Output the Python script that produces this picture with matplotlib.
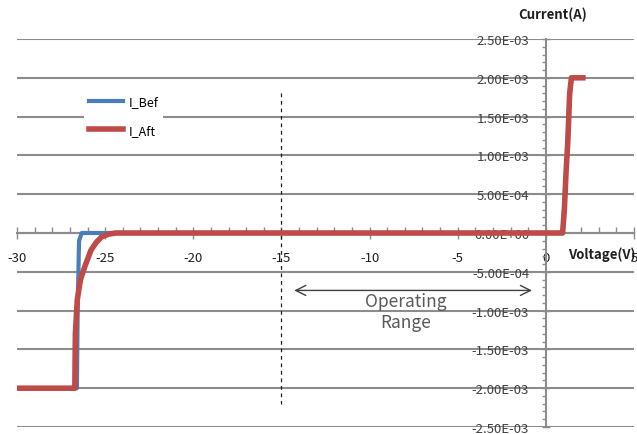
import matplotlib
matplotlib.use("Agg")
import matplotlib.pyplot as plt
from matplotlib.ticker import MultipleLocator, FuncFormatter

plt.rcParams['font.family'] = ['Noto Sans CJK KR', 'DejaVu Sans']

# I-V sweep before / after stress
v_bef = [-30, -26.6, -26.56, -26.48, -26.33, 0.95, 1.05, 1.2, 1.3, 1.45, 2.1]
i_bef = [-2.0e-3, -2.0e-3, -1.0e-3, -0.1e-3, 0.0, 0.0, 0.4e-3, 1.0e-3, 1.6e-3, 2.0e-3, 2.0e-3]

v_aft = [-30, -26.72, -26.69, -26.58, -26.4, -26.15, -25.8, -25.5, -25.2, -24.8, -24.4,
         0.95, 1.05, 1.15, 1.25, 1.3, 1.35, 1.45, 2.1]
i_aft = [-2.0e-3, -2.0e-3, -1.3e-3, -0.86e-3, -0.6e-3, -0.43e-3, -0.22e-3, -0.12e-3,
         -0.05e-3, -0.015e-3, 0.0, 0.0, 0.3e-3, 0.8e-3, 1.2e-3, 1.5e-3, 1.8e-3, 2.0e-3, 2.0e-3]

x_lim = (-30, 5)
y_lim = (-2.5e-3, 2.5e-3)
x_major = 5
y_major = 0.5e-3

range_left, range_right, range_level = -14.43, -0.63, -0.74e-3
marker_v = -15

grid_col = '#8c8c8c'
text_col = '#404040'

fig = plt.figure(figsize=(6.37, 4.35), dpi=100)
ax = fig.add_axes([17 / 637, 7 / 435, 617 / 637, 388 / 435])
ax.set_xlim(*x_lim)
ax.set_ylim(*y_lim)

# horizontal gridlines
ax.yaxis.set_major_locator(MultipleLocator(y_major))
ax.yaxis.set_minor_locator(MultipleLocator(y_major / 5))
ax.xaxis.set_major_locator(MultipleLocator(x_major))
ax.xaxis.set_minor_locator(MultipleLocator(1))
ax.grid(axis='y', which='major', color=grid_col, lw=1.5, zorder=0)
ax.set_axisbelow(True)

for side in ('top', 'right'):
    ax.spines[side].set_visible(False)
ax.spines['left'].set_position(('data', 0))
ax.spines['bottom'].set_position(('data', 0))
for side in ('left', 'bottom'):
    ax.spines[side].set_color(grid_col)
    ax.spines[side].set_linewidth(1.5)

ax.yaxis.set_major_formatter(FuncFormatter(lambda v, p: f'{v:.2E}'))
ax.xaxis.set_major_formatter(FuncFormatter(lambda v, p: f'{v:g}'))
ax.tick_params(axis='y', which='major', direction='inout', length=6, width=1,
               color=grid_col, pad=9, labelsize=9.5, labelcolor=text_col)
ax.tick_params(axis='y', which='minor', direction='out', length=3, width=1, color=grid_col)
ax.tick_params(axis='x', which='major', direction='inout', length=8, width=1,
               color=grid_col, pad=9, labelsize=9.5, labelcolor='#202020')
ax.tick_params(axis='x', which='minor', direction='in', length=4, width=1, color=grid_col)

ax.plot(v_bef, i_bef, color='#4a7ebb', lw=3, label='I_Bef', zorder=3, solid_joinstyle='round')
ax.plot(v_aft, i_aft, color='#be4b48', lw=4, label='I_Aft', zorder=4, solid_joinstyle='round')

ax.plot([marker_v, marker_v], [1.81e-3, -2.2e-3], color='#202020', lw=0.9,
        ls=(0, (3, 3)), zorder=2)
ax.annotate('', xy=(range_right, range_level), xytext=(range_left, range_level),
            arrowprops=dict(arrowstyle='<->', color='#404040', lw=1.0,
                            mutation_scale=18), zorder=5)
ax.text(-7.95, -1.01e-3, 'Operating\nRange', ha='center', va='center',
        fontsize=12.5, color='#595959', linespacing=1.25)

leg = ax.legend(loc='upper left', bbox_to_anchor=(84 / 637, 1 - 91 / 435),
                bbox_transform=fig.transFigure, frameon=True, fancybox=False,
                edgecolor='none', facecolor='white', framealpha=1, fontsize=9,
                handlelength=2.7, labelspacing=1.25, borderpad=0.4,
                handletextpad=0.45, borderaxespad=0)

fig.text(553 / 637, 1 - 15 / 435, 'Current(A)', ha='center', va='center',
         fontsize=9.5, fontweight='bold', color='#202020')
fig.text(568 / 637, 1 - 255 / 435, 'Voltage(V)', ha='left', va='center',
         fontsize=9.5, fontweight='bold', color='#202020')

fig.savefig('out.png', dpi=100)
